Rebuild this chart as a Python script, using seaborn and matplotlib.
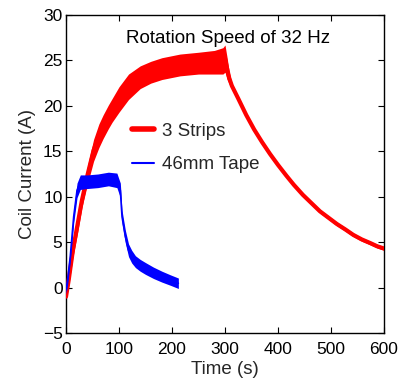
import numpy as np
import pandas as pd
import matplotlib
matplotlib.use("Agg")
import matplotlib.pyplot as plt
import seaborn as sns

# ---- data ----
# "3 Strips": lower / upper envelope of the noisy trace vs time (s)
red_t  = [0, 5, 13, 22, 30, 41, 52, 62, 70, 80, 87, 100, 118, 140, 160, 181, 215, 250, 280, 296,
          300, 304, 308, 313, 325, 340, 355, 370, 385, 400, 416, 430, 447, 463, 479, 495,
          511, 527, 542, 558, 574, 587, 600]
red_lo = [-1.5, 0.2, 3.3, 6.1, 8.8, 11.5, 13.9, 15.4, 16.4, 17.5, 18.2, 19.3, 20.7, 21.9, 22.5, 22.9, 23.3, 23.5, 23.5, 23.5,
          23.7, 22.9, 22.4, 21.9, 20.6, 18.8, 17.2, 15.8, 14.5, 13.3, 12.1, 11.1, 10.0, 9.1, 8.2, 7.5,
          6.8, 6.2, 5.6, 5.1, 4.7, 4.35, 4.1]
red_hi = [-0.5, 1.4, 4.9, 7.9, 10.4, 13.5, 16.3, 18.0, 19.0, 20.1, 20.8, 22.1, 23.5, 24.4, 24.9, 25.3, 25.7, 25.9, 26.1, 26.4,
          26.7, 25.3, 23.7, 22.5, 21.0, 19.2, 17.6, 16.2, 14.9, 13.7, 12.5, 11.5, 10.4, 9.5, 8.6, 7.9,
          7.2, 6.6, 6.0, 5.5, 5.1, 4.75, 4.5]

# "46mm Tape": lower / upper envelope vs time (s)
blue_t  = [0, 3, 8, 14.5, 20.8, 27, 40, 60, 80, 96, 102.5, 105.7, 112, 118, 124, 131, 140, 150, 165, 181, 197, 212]
blue_lo = [-0.7, 0.3, 2.8, 7.1, 9.9, 10.8, 10.9, 11.0, 11.2, 11.0, 9.9, 7.1, 4.9, 3.4, 2.7, 2.2, 1.8, 1.45, 1.0, 0.6, 0.25, -0.1]
blue_hi = [0.2, 1.4, 4.0, 8.5, 11.5, 12.4, 12.4, 12.5, 12.7, 12.6, 11.5, 8.5, 6.3, 4.8, 4.1, 3.5, 3.1, 2.75, 2.25, 1.8, 1.4, 1.05]

labels = ["3 Strips", "46mm Tape"]
title_text = "Rotation Speed of 32 Hz"
xlabel = "Time (s)"
ylabel = "Coil Current (A)"
xticks = [0, 100, 200, 300, 400, 500, 600]
yticks = [-5, 0, 5, 10, 15, 20, 25, 30]

# ---- plotting ----
sns.set_theme(style="ticks")
plt.rcParams["font.family"] = ["Liberation Sans", "DejaVu Sans"]

red_df = pd.DataFrame({"t": red_t, "lo": red_lo, "hi": red_hi})
red_df["mid"] = (red_df["lo"] + red_df["hi"]) / 2
blue_df = pd.DataFrame({"t": blue_t, "lo": blue_lo, "hi": blue_hi})
blue_df["mid"] = (blue_df["lo"] + blue_df["hi"]) / 2

fig = plt.figure(figsize=(4.01, 3.85), dpi=100)
ax = fig.add_axes([66 / 401, 52 / 385, 318 / 401, 318 / 385])

ax.fill_between(red_df["t"], red_df["lo"], red_df["hi"], color="#ff0000", lw=0, zorder=2)
sns.lineplot(data=red_df, x="t", y="mid", ax=ax, color="#ff0000", lw=3, label=labels[0], zorder=3)
ax.fill_between(blue_df["t"], blue_df["lo"], blue_df["hi"], color="#0000ff", lw=0, zorder=4)
sns.lineplot(data=blue_df, x="t", y="mid", ax=ax, color="#0000ff", lw=1.2, label=labels[1], zorder=5)

ax.set_xlim(0, 600)
ax.set_ylim(-5, 30)
ax.set_xticks(xticks)
ax.set_yticks(yticks)
ax.set_xlabel(xlabel, fontsize=13.5, labelpad=3)
ax.set_ylabel(ylabel, fontsize=13.5, labelpad=4.5)
ax.tick_params(direction="in", length=4, width=0.8, labelsize=12.5, top=True, right=True,
               colors="black")
ax.tick_params(axis="x", pad=6.5)
ax.tick_params(axis="y", pad=2.5)
for s in ax.spines.values():
    s.set_visible(True)
    s.set_color("black")
    s.set_linewidth(1.0)

ax.text(305, 26.9, title_text, ha="center", va="baseline", fontsize=13.5, color="black")

leg = ax.legend(loc="upper left", bbox_to_anchor=(0.2075, 0.662), frameon=False, fontsize=13.5,
                handlelength=1.16, handletextpad=0.45, labelspacing=0.88, borderpad=0, borderaxespad=0)
leg.get_lines()[0].set_linewidth(4)
leg.get_lines()[1].set_linewidth(1.5)

fig.savefig("out.png", dpi=100)
